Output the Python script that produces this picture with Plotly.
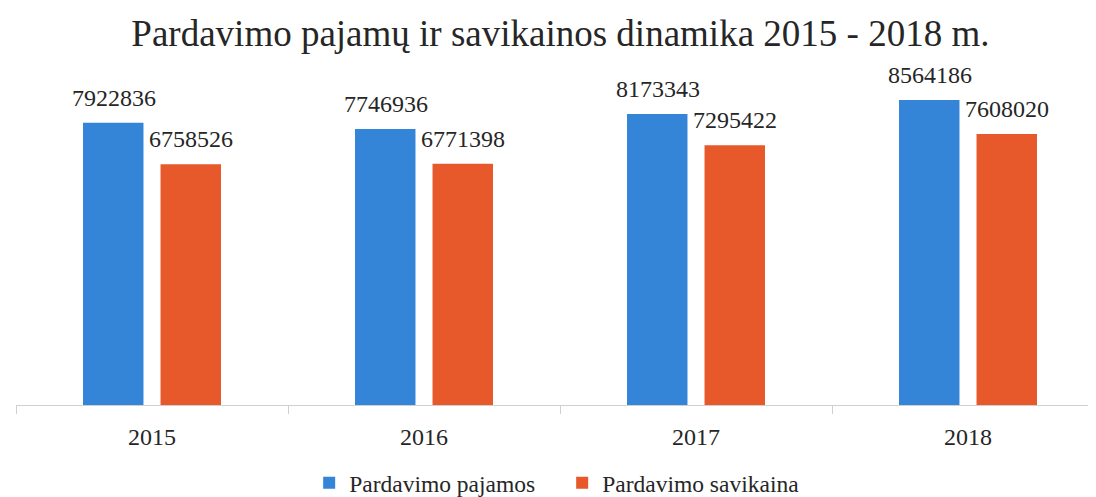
import plotly.graph_objects as go

years = ["2015", "2016", "2017", "2018"]
pajamos = [7922836, 7746936, 8173343, 8564186]
savikaina = [6758526, 6771398, 7295422, 7608020]

FONT = "Liberation Serif"
BLUE = "#3485d8"
ORANGE = "#e7582a"
TXT = "#262626"

fig = go.Figure()
fig.add_trace(go.Bar(x=years, y=pajamos, name="Pardavimo pajamos",
                     marker=dict(color=BLUE, line=dict(width=0))))
fig.add_trace(go.Bar(x=years, y=savikaina, name="Pardavimo savikaina",
                     marker=dict(color=ORANGE, line=dict(width=0))))

annotations = []
for series, shift in ((pajamos, -38.5), (savikaina, 38.5)):
    for i, v in enumerate(series):
        annotations.append(dict(x=i, y=v, xref="x", yref="y", text=str(v),
                                showarrow=False, xanchor="center", yanchor="bottom",
                                xshift=shift, yshift=10,
                                font=dict(family=FONT, size=24, color=TXT)))

fig.update_layout(
    width=1096, height=497,
    paper_bgcolor="white", plot_bgcolor="white",
    margin=dict(l=8, r=0, t=80, b=92),
    title=dict(text="Pardavimo pajamų ir savikainos dinamika 2015 - 2018 m.",
               x=0.504, xanchor="center", y=0.95, yanchor="middle",
               font=dict(family=FONT, size=37, color=TXT)),
    barmode="group", bargap=0.43, bargroupgap=0.22,
    showlegend=True,
    legend=dict(orientation="h", x=0.502, xanchor="center", y=-0.246, yanchor="middle",
                font=dict(family=FONT, size=23.5, color=TXT),
                entrywidth=208, entrywidthmode="pixels",
                traceorder="normal"),
    xaxis=dict(type="category", showline=True, linecolor="#cfcfcf", linewidth=1,
               ticks="outside", tickson="boundaries", ticklen=8, tickcolor="#cfcfcf",
               ticklabelstandoff=10,
               tickfont=dict(family=FONT, size=24, color=TXT), showgrid=False),
    yaxis=dict(range=[0, 8900000], visible=False, showgrid=False),
    font=dict(family=FONT, color=TXT),
    annotations=annotations,
)

fig.write_html("out.html")
